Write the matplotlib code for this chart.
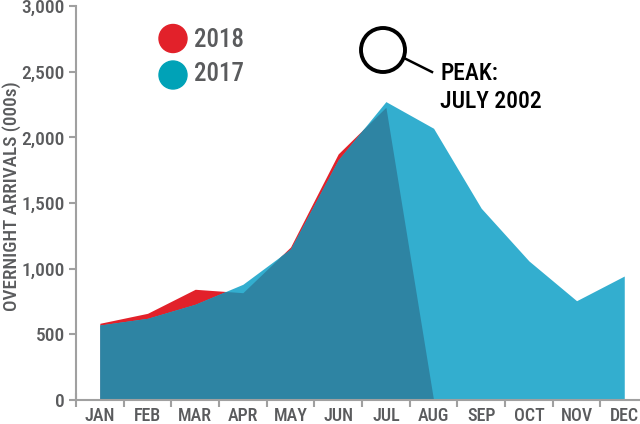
import numpy as np
import matplotlib
matplotlib.use("Agg")
import matplotlib.pyplot as plt
from matplotlib.patches import Ellipse
from matplotlib import font_manager as fm

months = ["JAN", "FEB", "MAR", "APR", "MAY", "JUN", "JUL", "AUG", "SEP", "OCT", "NOV", "DEC"]
arrivals_2017 = [571, 622, 729, 881, 1150, 1828, 2272, 2069, 1460, 1059, 756, 944]
arrivals_2018 = [584, 660, 843, 817, 1165, 1874, 2229, 0]
yticks = [0, 500, 1000, 1500, 2000, 2500, 3000]
ytick_labels = ["0", "500", "1,000", "1,500", "2,000", "2,500", "3,000"]

RED = "#e2212a"
CYAN = "#33aecf"
DARK = "#2e84a3"
LEG_TEAL = "#00a2b7"
GRAY = "#5a5b5d"
AXGRAY = "#a0a0a0"

# find a condensed font if one is installed
def is_cond(f):
    return (str(f.stretch) in ('condensed', 'semi-condensed', 'extra-condensed')
            or 'Condensed' in f.name or 'Narrow' in f.name
            or 'Condensed' in f.fname or 'Narrow' in f.fname)
cond = [f for f in fm.fontManager.ttflist if is_cond(f)
        and 'Italic' not in f.fname and 'Oblique' not in f.fname]

def wnum(f):
    w = f.weight
    if isinstance(w, str):
        w = fm.weight_dict.get(w, 400)
    fn = f.fname
    if 'ExtraBold' in fn or 'Black' in fn:
        w = max(w, 800)
    elif 'SemiBold' in fn:
        w = 600
    elif 'Medium' in fn:
        w = 500
    elif 'Bold' in fn:
        w = 700
    elif 'Light' in fn or 'Thin' in fn:
        w = min(w, 300)
    return w

def pick(target):
    for p in ['Roboto Condensed', 'Liberation Sans Narrow', 'Noto Sans', 'Open Sans', 'DejaVu Sans', 'Roboto']:
        cands = [f for f in cond if f.name == p]
        if cands:
            best = min(cands, key=lambda f: (abs(wnum(f) - target), -wnum(f)))
            return fm.FontProperties(fname=best.fname)
    return fm.FontProperties(family='DejaVu Sans', weight=target)

fp_med = pick(500)

def fpm(size):
    p = fp_med.copy(); p.set_size(size); return p

fig = plt.figure(figsize=(6.4, 4.24), dpi=100)
ax = fig.add_axes([76/640, 1-400/424, 1-76/640, (400-6)/424])

x17 = np.arange(len(arrivals_2017))
x18 = np.arange(len(arrivals_2018))
a17 = np.array(arrivals_2017, dtype=float)
a18 = np.array(arrivals_2018, dtype=float)

ax.fill_between(x18, 0, a18, color=RED, lw=0, zorder=1)
ax.fill_between(x17, 0, a17, color=CYAN, lw=0, zorder=2)
xf = np.linspace(0, len(a18) - 1, 2000)
ov = np.minimum(np.interp(xf, x18, a18), np.interp(xf, x17, a17))
ax.fill_between(xf, 0, ov, color=DARK, lw=0, zorder=3)

ax.set_xlim(-0.5, 11.33)
ax.set_ylim(0, 3000)
ax.set_yticks(yticks)
ax.set_yticklabels(ytick_labels, fontproperties=fpm(14))
ax.set_xticks(np.arange(len(months)))
ax.set_xticklabels(months, fontproperties=fpm(13))
ax.set_xticks(np.arange(-0.5, 11.5, 1.0), minor=True)
ax.tick_params(axis='x', which='major', length=0, pad=5, labelcolor=GRAY)
ax.tick_params(axis='x', which='minor', direction='inout', length=10, width=1.5, color=AXGRAY)
ax.tick_params(axis='y', direction='out', length=5, width=1.5, color=AXGRAY, labelcolor=GRAY, pad=3)

for s in ['top', 'right']:
    ax.spines[s].set_visible(False)
for s in ['left', 'bottom']:
    ax.spines[s].set_color(AXGRAY)
    ax.spines[s].set_linewidth(1.5)
    ax.spines[s].set_zorder(5)

fig.text(12/640, 1-196/424, "OVERNIGHT ARRIVALS (000s)", fontproperties=fpm(13.8), color=GRAY,
         rotation=90, ha='center', va='center')

# legend
fig.patches.append(Ellipse((173/640, 1-38.5/424), 28/640, 28/424, transform=fig.transFigure, color=RED))
fig.patches.append(Ellipse((173/640, 1-75/424), 28/640, 28/424, transform=fig.transFigure, color=LEG_TEAL))
fig.text(194/640, 1-40/424, "2018", fontproperties=fpm(18), color=GRAY, va='center', ha='left')
fig.text(194/640, 1-74/424, "2017", fontproperties=fpm(18), color=GRAY, va='center', ha='left')

# peak annotation
fig.patches.append(Ellipse((383/640, 1-50/424), 44/640, 44/424, transform=fig.transFigure,
                           fill=False, ec='black', lw=2.8))
fig.lines.append(plt.Line2D([404/640, 432/640], [1-58/424, 1-72/424], transform=fig.transFigure,
                            color='black', lw=1.8))
fig.text(440/640, 1-73/424, "PEAK:", fontproperties=fpm(17), color='black', va='center', ha='left')
fig.text(440/640, 1-101/424, "JULY 2002", fontproperties=fpm(17), color='black', va='center', ha='left')

fig.savefig("out.png", dpi=100)
